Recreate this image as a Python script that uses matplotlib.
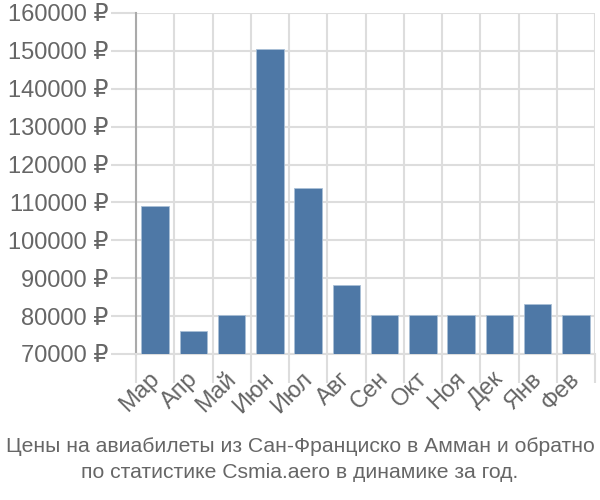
import matplotlib
matplotlib.use("Agg")
import matplotlib.pyplot as plt
import matplotlib.transforms as mtransforms
import numpy as np

months = ["Мар", "Апр", "Май", "Июн", "Июл", "Авг", "Сен", "Окт", "Ноя", "Дек", "Янв", "Фев"]
prices = [109000, 76000, 80300, 150500, 113900, 88200, 80300, 80300, 80300, 80300, 83200, 80300]
yticks = list(range(70000, 160001, 10000))
title_lines = ["Цены на авиабилеты из Сан-Франциско в Амман и обратно",
               "по статистике Csmia.aero в динамике за год."]

TEXT = "#666666"
GRID = "#dddddd"
BAR = "#4e78a6"
FAM = ["Liberation Sans", "DejaVu Sans"]

fig = plt.figure(figsize=(6, 5), dpi=100)
ax = fig.add_axes([0.2267, 0.292, 0.765, 0.682])

x = np.arange(len(months))
ax.bar(x, prices, width=0.72, color=BAR, edgecolor="#a9bfd6", linewidth=0.6, zorder=3)

ax.set_xlim(-0.5, len(months) - 0.5)
ax.set_ylim(70000, 160000)

ax.set_yticks(yticks)
ax.set_yticklabels(["{} ₽".format(v) for v in yticks], family=FAM, fontsize=17, color=TEXT)
ax.tick_params(axis="y", length=18, color=GRID, width=1.5, pad=2)

# vertical lines between bars, ticks hang below the axis
ax.set_xticks(np.arange(-0.5, len(months) - 0.4, 1), minor=False)
ax.set_xticklabels([])
ax.tick_params(axis="x", length=21, color=GRID, width=1.5)
ax.set_xticks(x, minor=True)
ax.set_xticklabels(months, minor=True, rotation=45, ha="right", va="top",
                   rotation_mode="anchor", family=FAM, fontsize=17, color=TEXT)
ax.tick_params(axis="x", which="minor", length=0, pad=10)
shift = mtransforms.ScaledTranslation(-7 / 100, 0, fig.dpi_scale_trans)
for lab in ax.get_xticklabels(minor=True):
    lab.set_transform(lab.get_transform() + shift)

ax.grid(True, which="major", color=GRID, linewidth=1.5, zorder=0)

for s in ["top", "right"]:
    ax.spines[s].set_visible(False)
ax.spines["bottom"].set_color(GRID)
ax.spines["bottom"].set_linewidth(1.5)
ax.spines["left"].set_color("#aaaaaa")
ax.spines["left"].set_linewidth(1.5)

fig.text(0.5, 0.108, title_lines[0], ha="center", va="center", fontsize=15.2, color=TEXT, family=FAM)
fig.text(0.5, 0.054, title_lines[1], ha="center", va="center", fontsize=15.2, color=TEXT, family=FAM)

fig.savefig("out.png", dpi=100)
